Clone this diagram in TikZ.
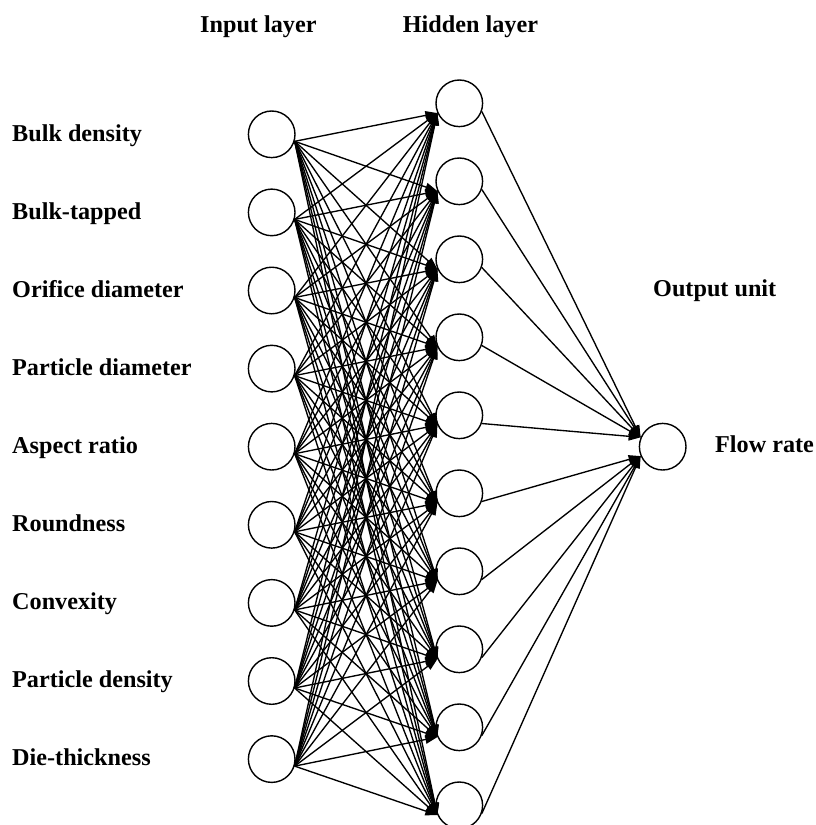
\documentclass[tikz,border=0pt]{standalone}
\usepackage{fontspec}
\setmainfont{Liberation Serif}
\usetikzlibrary{arrows.meta}
\begin{document}
\begin{tikzpicture}[x=1pt,y=-1pt,
  neuron/.style={circle,draw,line width=1.4pt,minimum size=46.6pt,inner sep=0pt},
  lbl/.style={anchor=base west,inner sep=0pt,font=\fontsize{24.2}{29}\selectfont\bfseries},
  link/.style={line width=1.35pt,-{Triangle[length=12pt,width=8.5pt]}}]
\useasboundingbox (0,0) rectangle (816,825);

% input layer
\foreach \i/\t in {1/Bulk density,2/Bulk-tapped,3/Orifice diameter,4/Particle diameter,
  5/Aspect ratio,6/Roundness,7/Convexity,8/Particle density,9/Die-thickness}{
  \node[neuron] (in\i) at (271.7,{134.3+78.1*(\i-1)}) {};
  \node[lbl] (lab\i) at (12,{141+78.1*(\i-1)}) {\t};
}

% hidden layer
\foreach \j in {1,...,10}{
  \node[neuron] (h\j) at (459.3,{103.3+78*(\j-1)}) {};
}

% output unit
\node[neuron] (out) at (662.7,446.7) {};

% headings
\node[lbl] (tin) at (200,32) {Input layer};
\node[lbl] (thid) at (402.7,32) {Hidden layer};
\node[lbl] (tout) at (653,296) {Output unit};
\node[lbl] (tflow) at (715,452) {Flow rate};

% input -> hidden connections
\foreach \i in {1,...,9}{
  \foreach \j in {1,...,10}{
    \draw[link] (in\i.-17) -- (h\j.204);
  }
}

% hidden -> output connections
\foreach \j in {1,...,5}{
  \draw[link] (h\j.-20) -- (out.157);
}
\foreach \j in {6,...,10}{
  \draw[link] (h\j.-20) -- (out.203);
}
\end{tikzpicture}
\end{document}
